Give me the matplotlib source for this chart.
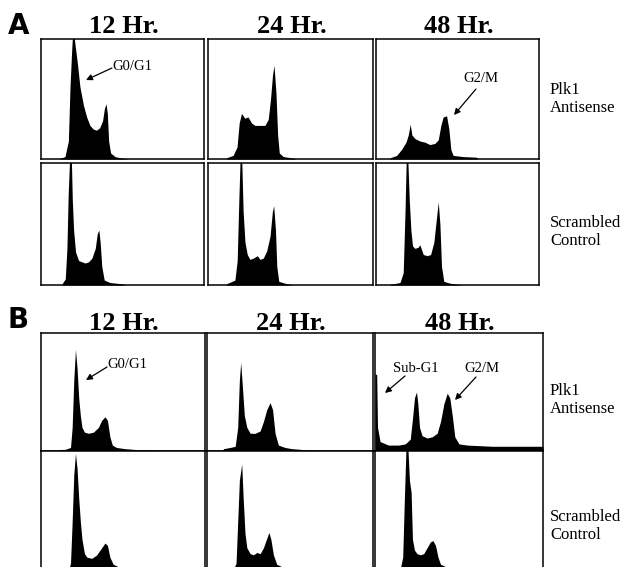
import matplotlib
matplotlib.use("Agg")
import matplotlib.pyplot as plt

# ---------------- data (channel position %, relative count %) ----------------
# Part A, 12 Hr
a12_as_x = [11.7, 14.7, 16.8, 17.8, 18.8, 19.6, 20.9, 22.3, 23.9, 26, 28, 30, 32, 34, 36, 37.8, 38.9, 39.9, 40.7, 41.5, 42.7, 45.4, 48.5, 52.6]
a12_as_h = [0.5, 2, 15, 60, 90, 110, 95, 80, 60, 45, 35, 28, 25, 24, 26, 32, 42, 46, 38, 15, 5, 2, 1, 0.3]
a12_sc_x = [12.9, 14.9, 15.9, 16.7, 17.6, 18.6, 19.2, 20, 21.2, 23.1, 25.1, 27.1, 29.2, 31.2, 33.3, 34.5, 35.5, 36.3, 37.3, 38.8, 42.4, 49.6, 52]
a12_sc_h = [1, 5, 30, 75, 105, 105, 70, 45, 27, 20, 19, 18, 19, 22, 30, 42, 45, 35, 15, 4, 2, 1, 0]
# Part A, 24 Hr
a24_as_x = [11.2, 15.2, 17.6, 18.9, 20.3, 22.3, 24.3, 26.4, 28.4, 31.4, 34.5, 36.5, 37.9, 39.1, 40, 41.2, 42.2, 43.2, 45.6, 50.7, 53.7]
a24_as_h = [1, 3, 10, 30, 38, 34, 35, 30, 28, 28, 28, 33, 50, 70, 78, 55, 20, 5, 2, 1, 0]
a24_sc_x = [11.2, 16.3, 17.7, 18.7, 19.5, 20.5, 21.3, 22.4, 23.8, 25.4, 27.4, 29.9, 31.5, 33.5, 35.6, 37.6, 39, 39.8, 40.9, 41.7, 42.9, 47.8, 50.8]
a24_sc_h = [1, 4, 20, 70, 105, 100, 60, 35, 25, 21, 22, 24, 21, 22, 28, 40, 60, 65, 45, 15, 3, 1, 0.3]
# Part A, 48 Hr
a48_as_x = [8.6, 12.7, 15.7, 18.4, 19.8, 21, 22, 23.9, 26.9, 30, 33.1, 36.1, 38.2, 39.8, 41.2, 43.3, 44.7, 45.9, 47.3, 53.5, 61.6, 62.7]
a48_as_h = [1, 3, 8, 14, 20, 29, 20, 17, 15, 14, 12, 13, 16, 28, 35, 36, 25, 8, 3, 2, 1.5, 0]
a48_sc_x = [8.6, 14.7, 16.7, 17.8, 18.6, 19.6, 20.4, 21.4, 22.4, 23.9, 25.9, 26.9, 29, 31.4, 33.5, 35.5, 37.1, 38.2, 39.2, 40.2, 41.6, 45.3, 50.4, 53]
a48_sc_h = [0.5, 2, 10, 60, 105, 100, 70, 45, 32, 30, 31, 33, 25, 24, 25, 35, 55, 68, 50, 15, 3, 1.5, 0.5, 0]
# Part B, 12 Hr
b12_as_x = [9, 10, 15, 18, 19, 20, 21, 22, 23, 24, 25, 26.5, 29, 32, 35, 37, 39, 40.5, 42, 43.5, 46, 51, 60, 72, 73]
b12_as_h = [0, 1, 1.5, 3, 20, 60, 86, 70, 45, 30, 20, 16, 15, 16, 20, 26, 29, 26, 12, 5, 3, 2, 1, 0.8, 0]
b12_sc_x = [17, 18, 19, 20, 21, 22, 23, 24, 25, 26.5, 28, 31, 34, 37, 39, 40.5, 42, 44, 47, 55, 60]
b12_sc_h = [0, 5, 40, 80, 98, 85, 60, 40, 25, 13, 10, 9, 12, 18, 22, 20, 10, 4, 2, 1, 0]
# Part B, 24 Hr
b24_as_x = [9, 10, 14, 17, 18.5, 19.5, 20.3, 21.3, 22.5, 24, 26, 29, 32, 34, 36, 38, 39.5, 41, 43, 47, 51, 60, 67, 68]
b24_as_h = [0, 2, 3, 4, 20, 60, 75, 55, 30, 20, 15, 15, 17, 25, 35, 41, 35, 15, 5, 3, 2, 1, 0.8, 0]
b24_sc_x = [16, 17.5, 18.5, 19.5, 20.9, 21.8, 22.9, 24, 26, 28, 30, 32, 34, 36, 37.3, 38.5, 40, 42, 45, 50]
b24_sc_h = [0, 5, 40, 75, 89, 60, 30, 18, 13, 12, 14, 13, 18, 26, 31, 25, 12, 4, 2, 0]
# Part B, 48 Hr
b48_as_x = [0, 1, 1.5, 3, 8, 14, 18, 21, 22.5, 23.5, 24.7, 25.5, 26.5, 28, 31, 34, 37, 39, 41, 43, 44.5, 46, 47.5, 50, 55, 70, 90, 100]
b48_as_h = [65, 65, 20, 8, 5, 5, 6, 10, 30, 45, 50, 40, 20, 13, 11, 12, 15, 25, 40, 49, 45, 30, 12, 6, 5, 4, 4, 4]
b48_sc_x = [15, 16.5, 17.5, 18.5, 19.5, 20.5, 21.5, 22.3, 23.5, 25, 27, 29, 31, 33, 34.5, 36, 37.5, 39, 42, 46, 50]
b48_sc_h = [0, 10, 60, 105, 105, 75, 65, 25, 16, 13, 12, 13, 18, 23, 24, 20, 10, 4, 2, 0.5, 0]

time_labels = ["12 Hr.", "24 Hr.", "48 Hr."]
row_labels = ["Plk1\nAntisense", "Scrambled\nControl"]

# ---------------- layout (pixels) ----------------
W, H = 625, 567
fig = plt.figure(figsize=(W / 100, H / 100), dpi=100)
fig.patch.set_facecolor("white")

def add_panel(x0, y0, x1, y1, xs, hs):
    ax = fig.add_axes([x0 / W, 1 - y1 / H, (x1 - x0) / W, (y1 - y0) / H])
    ax.fill_between(xs, hs, 0, color="black", lw=0)
    ax.set_xlim(0, 100)
    ax.set_ylim(0, 100)
    ax.set_xticks([])
    ax.set_yticks([])
    for s in ax.spines.values():
        s.set_linewidth(1.1)
        s.set_color("black")
    return ax

colsA = [(41, 204), (208, 373), (376, 539)]
colsB = [(41, 205), (207, 373), (375, 543)]
rowsA = [(39, 159), (163, 285)]
rowsB = [(333, 451), (451, 569)]

dataA = [[(a12_as_x, a12_as_h), (a24_as_x, a24_as_h), (a48_as_x, a48_as_h)],
         [(a12_sc_x, a12_sc_h), (a24_sc_x, a24_sc_h), (a48_sc_x, a48_sc_h)]]
dataB = [[(b12_as_x, b12_as_h), (b24_as_x, b24_as_h), (b48_as_x, b48_as_h)],
         [(b12_sc_x, b12_sc_h), (b24_sc_x, b24_sc_h), (b48_sc_x, b48_sc_h)]]

for r, (y0, y1) in enumerate(rowsA):
    for c, (x0, x1) in enumerate(colsA):
        add_panel(x0, y0, x1, y1, *dataA[r][c])
for r, (y0, y1) in enumerate(rowsB):
    for c, (x0, x1) in enumerate(colsB):
        add_panel(x0, y0, x1, y1, *dataB[r][c])

# overlay for text / arrows in pixel coordinates
ov = fig.add_axes([0, 0, 1, 1], zorder=10)
ov.set_xlim(0, W)
ov.set_ylim(H, 0)
ov.axis("off")
ov.patch.set_alpha(0)

serif = ["Liberation Serif", "DejaVu Serif"]
sans = ["DejaVu Sans"]

ov.text(8, 34, "A", fontsize=20, fontweight="bold", family=sans, va="baseline", ha="left")
ov.text(8, 328, "B", fontsize=20, fontweight="bold", family=sans, va="baseline", ha="left")

for (x0, x1), t in zip(colsA, time_labels):
    ov.text((x0 + x1) / 2 + 1, 33, t, fontsize=19, fontweight="bold", family=serif, ha="center", va="baseline")
for (x0, x1), t in zip(colsB, time_labels):
    ov.text((x0 + x1) / 2 + 1, 330, t, fontsize=19, fontweight="bold", family=serif, ha="center", va="baseline")

for yc, lab in zip([99, 232, 400, 526], row_labels * 2):
    ov.text(550, yc, lab, fontsize=12, family=serif, ha="left", va="center", linespacing=1.15)

arrow_kw = dict(arrowstyle="-|>", lw=0.9, color="black", mutation_scale=9, shrinkA=0, shrinkB=0)
ann = [("G0/G1", (132, 66), (112, 68), (86, 80)),
       ("G2/M", (481, 79), (476, 89), (454, 115)),
       ("G0/G1", (127, 365), (107, 367), (86, 380)),
       ("Sub-G1", (416, 369), (405, 376), (385, 393)),
       ("G2/M", (482, 369), (476, 377), (455, 400))]
for txt, tpos, a0, a1 in ann:
    ov.text(tpos[0], tpos[1], txt, fontsize=10.5, family=serif, ha="center", va="center")
    ov.annotate("", xy=a1, xytext=a0, arrowprops=arrow_kw)

fig.savefig("out.png", dpi=100, facecolor="white")
